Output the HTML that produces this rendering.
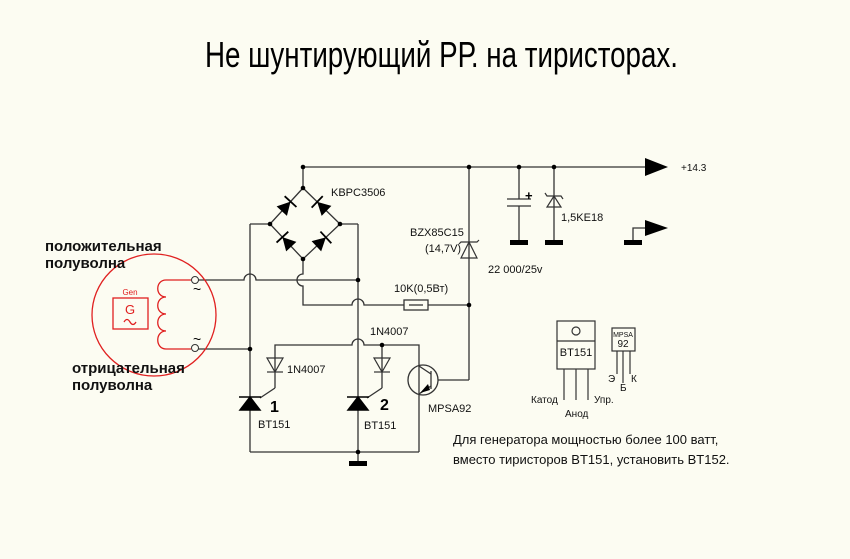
<!DOCTYPE html>
<html><head><meta charset="utf-8"><style>
html,body{margin:0;padding:0;background:#fcfcf2;}
svg{display:block;font-family:"Liberation Sans",sans-serif;}
</style></head><body>
<svg width="850" height="559" viewBox="0 0 850 559" xmlns="http://www.w3.org/2000/svg">
<defs>
<g id="d"><polygon points="-7,-7 -7,7 6,0" fill="#000"/><line x1="6" y1="-8" x2="6" y2="8" stroke="#000" stroke-width="1.8"/></g>
</defs>
<rect width="850" height="559" fill="#fcfcf2"/>
<text x="205" y="67" font-size="36" textLength="473" lengthAdjust="spacingAndGlyphs" fill="#000">Не шунтирующий РР. на тиристорах.</text>

<g stroke="#333" stroke-width="1.3" fill="none">
<line x1="303" y1="167" x2="648" y2="167"/>
<line x1="303" y1="167" x2="303" y2="188"/>
<polyline points="303,188 340,224 303,259 270,224 303,188"/>
<line x1="250" y1="224" x2="270" y2="224"/>
<line x1="340" y1="224" x2="358" y2="224"/>
<line x1="250" y1="224" x2="250" y2="452"/>
<line x1="358" y1="224" x2="358" y2="452"/>
<line x1="250" y1="452" x2="419" y2="452"/>
<line x1="358" y1="452" x2="358" y2="461"/>
<path d="M195,280 H244 A6,6 0 0 1 256,280 H358"/>
<line x1="195" y1="349" x2="250" y2="349"/>
<path d="M303,259 V274 A6,6 0 0 0 303,286 V305 H352 A6,6 0 0 1 364,305 H404"/>
<line x1="428" y1="305" x2="469" y2="305"/>
<rect x="404" y="300" width="24" height="10"/>
<line x1="409" y1="305" x2="423" y2="305"/>
<line x1="469" y1="167" x2="469" y2="380"/>
<line x1="469" y1="380" x2="438" y2="380"/>
<path d="M275,388 V345 H352 A6,6 0 0 1 364,345 H419 V452"/>
<line x1="382" y1="345" x2="382" y2="388"/>
<line x1="275" y1="388" x2="260" y2="398"/>
<line x1="382" y1="388" x2="367" y2="398"/>
<line x1="519" y1="167" x2="519" y2="199"/>
<line x1="519" y1="206" x2="519" y2="240"/>
<line x1="507" y1="199" x2="531" y2="199"/>
<line x1="507" y1="206" x2="531" y2="206"/>
<line x1="554" y1="167" x2="554" y2="240"/>
<polyline points="633,240 633,228 648,228"/>
<circle cx="423" cy="380" r="15"/>
<line x1="431" y1="371" x2="431" y2="389"/>
<line x1="419" y1="366" x2="431" y2="374"/>
<line x1="431" y1="386" x2="419" y2="394"/>
</g>
<polygon points="420,393 428,384 430,390" fill="#000"/>
<g stroke="#333" stroke-width="1.2" fill="none">
<polygon points="267,358 283,358 275,372"/>
<line x1="267" y1="372" x2="283" y2="372"/>
<polygon points="374,358 390,358 382,372"/>
<line x1="374" y1="372" x2="390" y2="372"/>
<polygon points="461,258 477,258 469,242"/>
<polyline points="459,244 461,242 477,242 479,240"/>
<polygon points="547,207 561,207 554,196"/>
<polyline points="545,193 547,196 561,196 563,199"/>
</g>
<!-- bridge diodes -->
<use href="#d" transform="translate(286.5,206) rotate(-47.5)"/>
<use href="#d" transform="translate(321.5,206) rotate(-136)"/>
<use href="#d" transform="translate(286.5,241.5) rotate(-133)"/>
<use href="#d" transform="translate(321.5,241.5) rotate(-43)"/>
<g fill="#000" stroke="#000" stroke-width="1.5">
<polygon points="240,410 260,410 250,397"/><line x1="239" y1="397" x2="261" y2="397"/>
<polygon points="348,410 368,410 358,397"/><line x1="347" y1="397" x2="369" y2="397"/>
</g>
<g fill="#000">
<rect x="349" y="461" width="18" height="5"/>
<rect x="510" y="240" width="18" height="5"/>
<rect x="545" y="240" width="18" height="5"/>
<rect x="624" y="240" width="18" height="5"/>
<polygon points="645,158 668,167 645,176"/>
<polygon points="645,220 668,228 645,236"/>
</g>
<g fill="#000">
<circle cx="303" cy="167" r="2.3"/><circle cx="469" cy="167" r="2.3"/><circle cx="519" cy="167" r="2.3"/><circle cx="554" cy="167" r="2.3"/>
<circle cx="303" cy="188" r="2.3"/><circle cx="270" cy="224" r="2.3"/><circle cx="340" cy="224" r="2.3"/><circle cx="303" cy="259" r="2.3"/>
<circle cx="358" cy="280" r="2.3"/><circle cx="469" cy="305" r="2.3"/><circle cx="250" cy="349" r="2.3"/><circle cx="382" cy="345" r="2.3"/><circle cx="358" cy="452" r="2.3"/>
</g>
<g stroke="#e02020" stroke-width="1.3" fill="none">
<ellipse cx="154" cy="315" rx="62" ry="61"/>
<rect x="113" y="298" width="35" height="31"/>
<path d="M191,280 H166 C155,280 155,297 166,297 C155,297 155,314 166,314 C155,314 155,331 166,331 C155,331 155,349 166,349 H191"/>
<path d="M124,322 q3,-5 6,0 q3,5 6,0"/>
</g>
<circle cx="195" cy="280" r="3.5" fill="#fcfcf2" stroke="#333"/>
<circle cx="195" cy="348" r="3.5" fill="#fcfcf2" stroke="#333"/>
<text x="130" y="295" font-size="8" fill="#e02020" text-anchor="middle">Gen</text>
<text x="130" y="314" font-size="13" fill="#e02020" text-anchor="middle">G</text>
<text x="193" y="294" font-size="14" fill="#000">~</text>
<text x="193" y="344" font-size="14" fill="#000">~</text>
<g font-weight="bold" font-size="15" fill="#111">
<text x="45" y="251">положительная</text>
<text x="45" y="268">полуволна</text>
<text x="72" y="373">отрицательная</text>
<text x="72" y="390">полуволна</text>
</g>
<g font-size="11" fill="#111">
<text x="331" y="196">KBPC3506</text>
<text x="410" y="236">BZX85C15</text>
<text x="425" y="252">(14,7V)</text>
<text x="488" y="273">22 000/25v</text>
<text x="561" y="221">1,5KE18</text>
<text x="681" y="171" font-size="10">+14.3</text>
<text x="394" y="292">10K(0,5Вт)</text>
<text x="370" y="335">1N4007</text>
<text x="287" y="373">1N4007</text>
<text x="428" y="412">MPSA92</text>
<text x="258" y="428">BT151</text>
<text x="364" y="429">BT151</text>
<text x="453" y="444" font-size="13">Для генератора мощностью более 100 ватт,</text>
<text x="453" y="464" font-size="13">вместо тиристоров BT151, установить BT152.</text>
</g>
<text x="270" y="412" font-size="16" font-weight="bold">1</text>
<text x="380" y="410" font-size="16" font-weight="bold">2</text>
<text x="525" y="200" font-size="13" font-weight="bold">+</text>
<g stroke="#333" stroke-width="1.2" fill="none">
<rect x="557" y="321" width="38" height="48"/>
<line x1="557" y1="341" x2="595" y2="341"/>
<circle cx="576" cy="331" r="4"/>
<line x1="564" y1="369" x2="564" y2="400"/><line x1="576" y1="369" x2="576" y2="400"/><line x1="588" y1="369" x2="588" y2="400"/>
<rect x="612" y="328" width="23" height="23"/>
<line x1="617" y1="351" x2="617" y2="374"/><line x1="623" y1="351" x2="623" y2="383"/><line x1="630" y1="351" x2="630" y2="374"/>
</g>
<g font-size="10" fill="#111">
<text x="576" y="356" text-anchor="middle" font-size="11">BT151</text>
<text x="623" y="337" text-anchor="middle" font-size="7">MPSA</text>
<text x="623" y="347" text-anchor="middle" font-size="10">92</text>
<text x="531" y="403">Катод</text>
<text x="565" y="417">Анод</text>
<text x="594" y="403">Упр.</text>
<text x="608" y="382">Э</text>
<text x="620" y="391">Б</text>
<text x="631" y="382">К</text>
</g>
</svg>
</body></html>
